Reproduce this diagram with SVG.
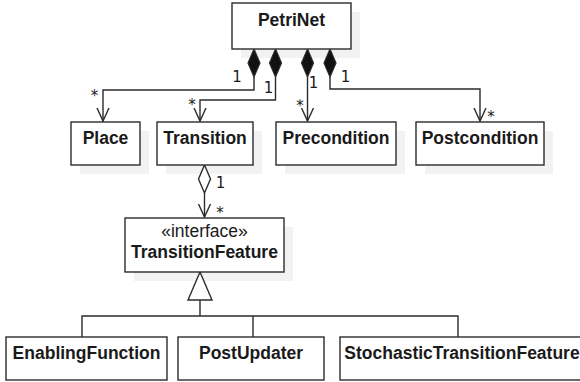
<svg xmlns="http://www.w3.org/2000/svg" width="580" height="382" viewBox="0 0 580 382">
<style>
.box{fill:#fff;stroke:#2b2b2b;stroke-width:1.4}
.sh{fill:#f2f2f2;stroke:none}
.name{font-family:"Liberation Sans",Arial,sans-serif;font-size:17.5px;font-weight:bold;fill:#1a1a1a;text-anchor:middle}
.ster{font-family:"Liberation Sans",Arial,sans-serif;font-size:17.5px;fill:#1a1a1a;text-anchor:middle}
.mult{font-family:"DejaVu Sans",sans-serif;font-size:15px;fill:#1a1a1a;text-anchor:middle}
.ln{fill:none;stroke:#2b2b2b;stroke-width:1.4}
.fd{fill:#111;stroke:#2b2b2b;stroke-width:1.2}
.hd{fill:#fff;stroke:#2b2b2b;stroke-width:1.4}
</style>
<defs>
<marker id="open" markerWidth="14" markerHeight="16" refX="13" refY="7" orient="auto" markerUnits="userSpaceOnUse" viewBox="0 0 14 14">
<path d="M0,1 L13,7 L0,13" fill="none" stroke="#2b2b2b" stroke-width="1.4"/>
</marker>
</defs>
<g id="shadows">
<rect class="sh" x="241" y="12" width="119" height="46"/>
<rect class="sh" x="80" y="131" width="69" height="43"/>
<rect class="sh" x="166" y="131" width="96" height="43"/>
<rect class="sh" x="285" y="131" width="120" height="43"/>
<rect class="sh" x="425" y="131" width="128" height="43"/>
<rect class="sh" x="134" y="227" width="159" height="54"/>
</g>
<g id="connectors">
<path class="ln" d="M254,77 V90 H103 V121" marker-end="url(#open)"/>
<path class="ln" d="M275.5,77 V100 H200 V121" marker-end="url(#open)"/>
<path class="ln" d="M307.5,77 V121" marker-end="url(#open)"/>
<path class="ln" d="M330,77 V89 H480 V121" marker-end="url(#open)"/>
<path class="fd" d="M254,49 L260,63 L254,77 L248,63 Z"/>
<path class="fd" d="M275.5,49 L281.5,63 L275.5,77 L269.5,63 Z"/>
<path class="fd" d="M307.5,49 L313.5,63 L307.5,77 L301.5,63 Z"/>
<path class="fd" d="M330,49 L336,63 L330,77 L324,63 Z"/>
<path class="ln" d="M204.5,193 V217" marker-end="url(#open)"/>
<path class="hd" d="M204.5,165 L210.5,179 L204.5,193 L198.5,179 Z"/>
<path class="ln" d="M200,300 V316 M82,337 V316 H458 V337 M253,316 V337"/>
<path class="hd" d="M200,272 L212,300 L188,300 Z"/>
<text class="mult" x="237" y="82">1</text>
<text class="mult" x="94.5" y="101">*</text>
<text class="mult" x="268.5" y="93">1</text>
<text class="mult" x="192" y="110">*</text>
<text class="mult" x="313.5" y="88">1</text>
<text class="mult" x="300" y="111">*</text>
<text class="mult" x="345.5" y="82">1</text>
<text class="mult" x="491" y="122">*</text>
<text class="mult" x="220.5" y="188">1</text>
<text class="mult" x="220" y="218">*</text>
</g>
<g id="PetriNet">
<rect class="box" x="232" y="3" width="119" height="46"/>
<text class="name" x="291.5" y="26">PetriNet</text>
</g>
<g id="Place">
<rect class="box" x="71" y="122" width="69" height="43"/>
<text class="name" x="105.5" y="144">Place</text>
</g>
<g id="Transition">
<rect class="box" x="157" y="122" width="96" height="43"/>
<text class="name" x="205" y="144">Transition</text>
</g>
<g id="Precondition">
<rect class="box" x="276" y="122" width="120" height="43"/>
<text class="name" x="336" y="144">Precondition</text>
</g>
<g id="Postcondition">
<rect class="box" x="416" y="122" width="128" height="43"/>
<text class="name" x="480" y="144">Postcondition</text>
</g>
<g id="TransitionFeature">
<rect class="box" x="125" y="218" width="159" height="54"/>
<text class="ster" x="204.5" y="237">«interface»</text>
<text class="name" x="204.5" y="258">TransitionFeature</text>
</g>
<g id="EnablingFunction">
<rect class="box" x="6" y="337" width="161" height="43"/>
<text class="name" x="86.5" y="359">EnablingFunction</text>
</g>
<g id="PostUpdater">
<rect class="box" x="178" y="337" width="146" height="43"/>
<text class="name" x="251" y="359">PostUpdater</text>
</g>
<g id="StochasticTransitionFeature">
<rect class="box" x="340" y="337" width="244" height="43"/>
<text class="name" x="462" y="359">StochasticTransitionFeature</text>
</g>
</svg>
